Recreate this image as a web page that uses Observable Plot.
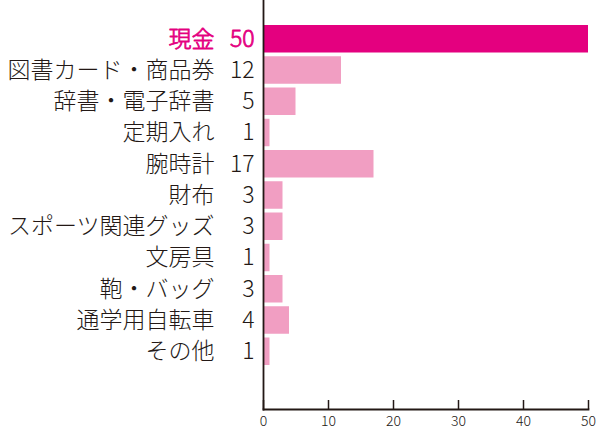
<!DOCTYPE html>
<html><head><meta charset="utf-8">
<script src="https://cdn.jsdelivr.net/npm/d3@7"></script>
<script src="https://cdn.jsdelivr.net/npm/@observablehq/plot@0.6"></script>
<style>body{margin:0;background:#fff}</style>
</head><body><div id="chart"></div>
<script>
const categories = ["現金","図書カード・商品券","辞書・電子辞書","定期入れ","腕時計","財布","スポーツ関連グッズ","文房具","鞄・バッグ","通学用自転車","その他"];
const counts = [50,12,5,1,17,3,3,1,3,4,1];
const highlight = ["現金"];
const xTicks = [0,10,20,30,40,50];

const data = categories.map((c,i)=>({cat:c, n:counts[i], hi: highlight.includes(c)}));
const ink = "#231815";
const pink = "#e4007f";
const font = "'Noto Sans CJK JP', 'Noto Sans', sans-serif";

const chart = Plot.plot({
  width: 600, height: 441,
  marginLeft: 263, marginRight: 12, marginTop: 0, marginBottom: 32,
  style: {fontFamily: font, background: "#fff", color: ink},
  x: {domain: [0,50], ticks: xTicks, label: null},
  y: {domain: categories, range: [25, 365], paddingInner: 0.12, paddingOuter: 0, round: false, axis: null},
  marks: [
    Plot.barX(data, {y: "cat", x: "n", fill: d => d.hi ? pink : "#f19ec2"}),
    Plot.text(data, {y: "cat", text: "cat", frameAnchor: "left", dx: -49, textAnchor: "end",
      fontSize: 23, fontWeight: 300, fill: d => d.hi ? pink : ink, stroke: d => d.hi ? pink : "none", strokeWidth: 0.8}),
    Plot.text(data, {y: "cat", text: d => String(d.n), frameAnchor: "left", dx: -9, textAnchor: "end",
      fontSize: 23, fontWeight: 300, fill: d => d.hi ? pink : ink, stroke: d => d.hi ? pink : "none", strokeWidth: 0.8}),
    Plot.axisX({anchor: "bottom", ticks: xTicks, tickSize: -9, tickPadding: 16, fontSize: 14, fontWeight: 300, stroke: ink, strokeWidth: 1.5, fill: ink, label: null}),
    Plot.frame({anchor: "bottom", stroke: ink, strokeWidth: 1.8}),
    Plot.frame({anchor: "left", stroke: ink, strokeWidth: 1.8})
  ]
});
document.getElementById("chart").appendChild(chart);
</script>
</body></html>
